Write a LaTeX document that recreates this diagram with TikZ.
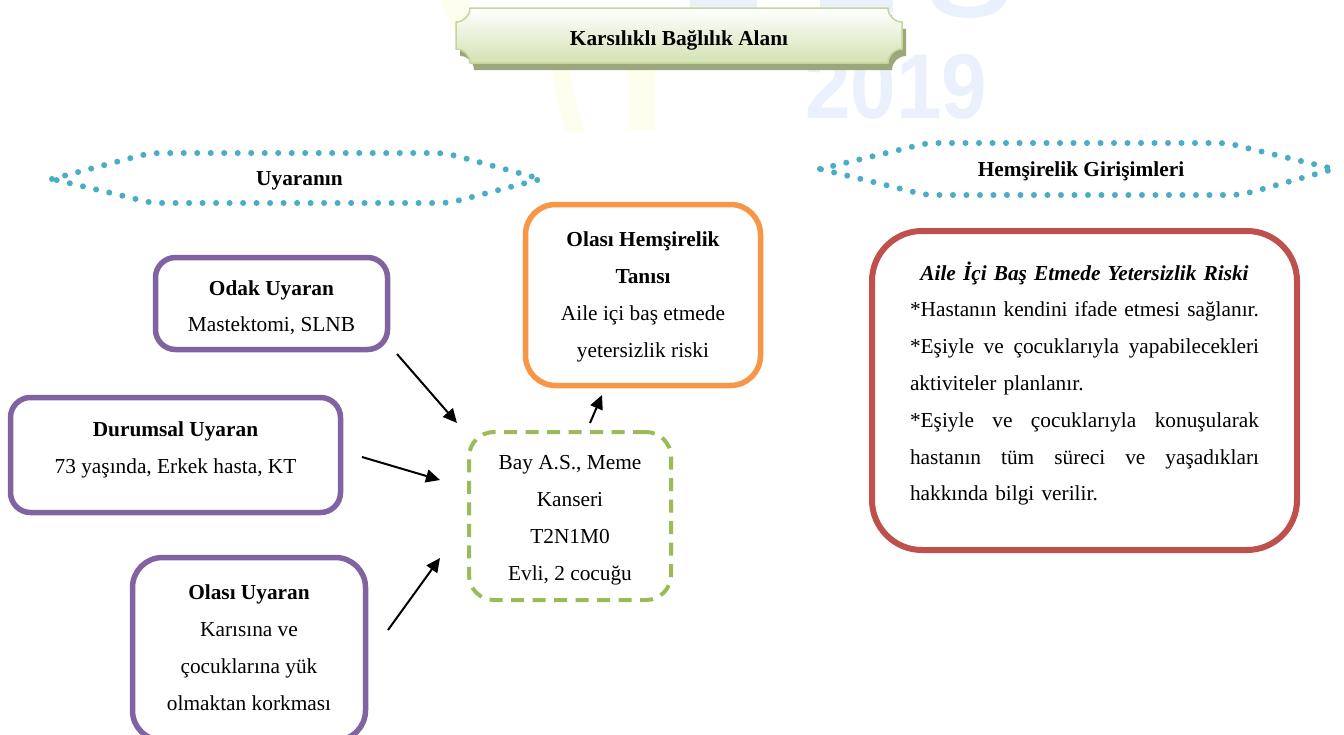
\documentclass[tikz,border=0pt]{standalone}
\usepackage{fontspec}
\setmainfont{Liberation Serif}
\newfontfamily\wmfont{Liberation Sans}
\usetikzlibrary{arrows.meta,calc,backgrounds}

\definecolor{stimcol}{HTML}{8064A2}
\definecolor{diagcol}{HTML}{F79646}
\definecolor{carecol}{HTML}{C0504D}
\definecolor{casecol}{HTML}{9BBB59}
\definecolor{dotcol}{HTML}{4BACC6}
\definecolor{plaqbot}{HTML}{D3E2B3}
\definecolor{plaqline}{HTML}{C3D69B}
\definecolor{plaqshadow}{HTML}{9CA87C}
\definecolor{wmblue}{RGB}{235,241,252}
\definecolor{wmyellow}{RGB}{253,254,238}

% struts fixing the height of a first line and the depth of a last line
\newcommand\toph[1]{\rule{0pt}{#1pt}}
\newcommand\botd[1]{\rule[-#1pt]{0pt}{#1pt}}

\tikzset{
  basefont/.style={font=\fontsize{21.33}{36.8}\selectfont},
  lbl/.style={font=\fontsize{21.33}{36.8}\selectfont\bfseries, anchor=base, inner sep=0pt},
  box/.style={basefont, draw, rounded corners=#1, align=center, outer sep=0pt, inner sep=0pt},
  stim/.style={box=#1, draw=stimcol, line width=5.5pt},
  arr/.style={-{Triangle[length=14pt,width=13pt]}, line width=2pt, black},
  dots/.style={draw=dotcol, line width=6pt, line cap=round, dash pattern=on 0pt off 13.5pt},
  plaque/.pic={
    \path[pic actions]
      (-209,-27.5) -- (209,-27.5)
      .. controls (209,-19.77) and (215.27,-13.5) .. (223,-13.5)
      -- (223,13.5)
      .. controls (215.27,13.5) and (209,19.77) .. (209,27.5)
      -- (-209,27.5)
      .. controls (-209,19.77) and (-215.27,13.5) .. (-223,13.5)
      -- (-223,-13.5)
      .. controls (-215.27,-13.5) and (-209,-19.77) .. (-209,-27.5)
      -- cycle;
  }
}

\begin{document}
\begin{tikzpicture}[x=1pt,y=-1pt]
\useasboundingbox (0,0) rectangle (1344,734);

% heading plaque
\node[lbl] (ttl) at (679,45) {Karsılıklı Bağlılık Alanı};

% section headers
\node[lbl] (uyr) at (299.5,185) {Uyaranın};
\node[lbl] (hgr) at (1081,176) {Hemşirelik Girişimleri};

% stimuli
\node[stim=20pt, minimum width=232pt, minimum height=92pt] (odak) at (271.5,303.5)
  {\toph{25}\textbf{Odak Uyaran}\\Mastektomi, SLNB\botd{5}};
\node[stim=20pt, minimum width=330pt, minimum height=115pt] (dur) at (175.5,455)
  {\toph{15}\textbf{Durumsal Uyaran}\\73 yaşında, Erkek hasta, KT\botd{15}};
\node[stim=30pt, minimum width=233pt, minimum height=183pt] (olasi) at (249,649)
  {\toph{17}\textbf{Olası Uyaran}\\Karısına ve\\çocuklarına yük\\olmaktan korkması\botd{5}};

% case
\node[box=25pt, draw=casecol, line width=4pt, dash pattern=on 13pt off 8.5pt,
      minimum width=202pt, minimum height=168pt] (case) at (570,516)
  {\toph{23}Bay A.S., Meme\\Kanseri\\T2N1M0\\Evli, 2 cocuğu\botd{5}};

% nursing diagnosis
\node[box=30pt, draw=diagcol, line width=5.5pt,
      minimum width=235pt, minimum height=181pt] (dx) at (643,295)
  {\toph{19}\textbf{Olası Hemşirelik}\\\textbf{Tanısı}\\Aile içi baş etmede\\yetersizlik riski\botd{5}};

% interventions
\node[basefont, draw=carecol, line width=6pt, rounded corners=50pt, outer sep=0pt,
      inner sep=0pt, text width=349pt, minimum width=425pt, minimum height=319pt]
  (care) at (1084.5,390.5) {%
  \hbox to\hsize{\toph{20}\hfil\textbf{\textit{Aile İçi Baş Etmede Yetersizlik Riski}}\hfil}
  \hbox to\hsize{*Hastanın kendini ifade etmesi sağlanır.\hfil}
  \hbox to\hsize{*Eşiyle\hfil ve\hfil çocuklarıyla\hfil yapabilecekleri}
  \hbox to\hsize{aktiviteler planlanır.\hfil}
  \hbox to\hsize{*Eşiyle\hfil ve\hfil çocuklarıyla\hfil konuşularak}
  \hbox to\hsize{hastanın\hfil tüm\hfil süreci\hfil ve\hfil yaşadıkları}
  \hbox to\hsize{hakkında bilgi verilir.\botd{20}\hfil}};

% dotted header frames
\draw[dots] (52,179) -- (131,158) .. controls (150,153) .. (170,153) -- (425,153)
  .. controls (445,153) .. (464,158) -- (541,179) -- (468,198)
  .. controls (449,203) .. (429,203) -- (171,203) .. controls (151,203) .. (132,198) -- cycle;
\draw[dots] (820,169) -- (907,148) .. controls (927,143) .. (947,143) -- (1208,143)
  .. controls (1228,143) .. (1247,148) -- (1334,169) -- (1259,190)
  .. controls (1240,195) .. (1220,195) -- (945,195) .. controls (925,195) .. (906,190) -- cycle;

% arrows
\draw[arr] ($(odak.south east)+(9.5,4.5)$) -- ($(case.north west)+(-12,-9)$);
\draw[arr] ($(dur.east)+(21.5,2)$) -- ($(case.west)+(-29,-36)$);
\draw[arr] ($(olasi.east)+(22.5,-19)$) -- ($(case.south west)+(-29,-42)$);
\draw[arr] ($(case.north)+(20,-9)$) -- ($(dx.south)+(-41,9.5)$);

\begin{scope}[on background layer]
  \fill[white] (0,0) rectangle (1344,734);
  % faint watermark
  \fill[wmyellow] (440,0) .. controls (452,30) and (462,50) .. (470,62)
    -- (470,0) -- cycle;
  \fill[wmyellow] (552,70) .. controls (556,95) and (560,115) .. (566,132)
    -- (585,132) .. controls (578,110) and (572,90) .. (570,70) -- cycle;
  \fill[wmyellow] (628,70) rectangle (655,130);
  \fill[wmblue] (690,0) rectangle (718,18);
  \fill[wmblue] (718,0) rectangle (757,9);
  \fill[wmblue] (820,0) rectangle (893,12);
  \fill[wmblue] (932,0) .. controls (938,24) and (1000,24) .. (1006,0) -- (990,0)
    .. controls (985,9) and (953,9) .. (948,0) -- cycle;
  \begin{scope}[shift={(805,118)}, xscale=0.89]
    \node[transform shape, anchor=base west, inner sep=0pt, text=wmblue,
          font=\wmfont\bfseries\fontsize{92}{92}\selectfont] (wm) at (0,0) {2019};
  \end{scope}
  % plaque with its shadow
  \pic[fill=plaqshadow] at ($(ttl.base)+(4,-2.5)$) {plaque};
  \pic[draw=plaqline, line width=1.5pt, top color=white, bottom color=plaqbot]
    at ($(ttl.base)+(0,-9.5)$) {plaque};
\end{scope}
\end{tikzpicture}
\end{document}
